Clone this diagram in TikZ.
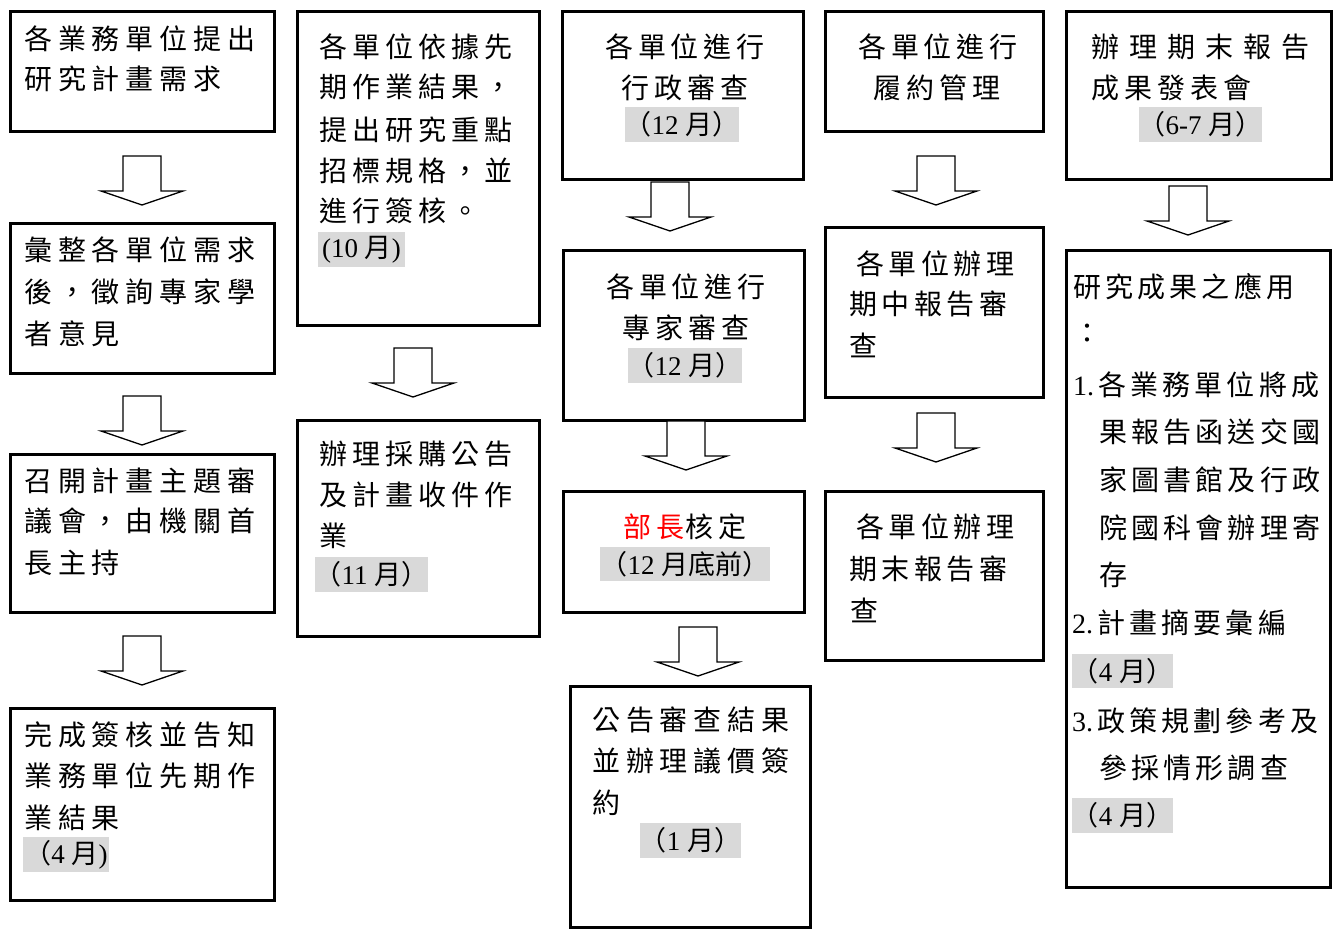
\documentclass[tikz,border=0pt]{standalone}
\usepackage{fontspec}
\setmainfont{Liberation Serif}
\newfontfamily\cjk{Noto Sans CJK TC}
\usetikzlibrary{calc}
\newcommand\ls[1]{\addfontfeature{LetterSpace=#1}}
\tikzset{
  box/.style={draw=black, line width=3pt, rectangle, inner sep=0pt, outer sep=0pt},
  txt/.style={anchor=base west, inner sep=0pt, font=\cjk\fontsize{28pt}{28pt}\selectfont},
  ctxt/.style={anchor=base, inner sep=0pt, font=\cjk\fontsize{28pt}{28pt}\selectfont},
  mon/.style={fill=gray!30, inner sep=0pt, outer sep=0pt, font=\cjk\fontsize{27pt}{27pt}\selectfont},
  arrline/.style={draw=black, line width=1.3pt, fill=white, line join=miter}
}
% text line: name, x, y(center), letterspace, text
\newcommand\tl[5]{\node[txt] (#1) at (#2,#3+10.5) {\ls{#4}#5};}
\newcommand\tc[5]{\node[ctxt] (#1) at (#2,#3+10.5) {\ls{#4}#5};}
% block arrow below node #1, dx #2, dy #3
\newcommand\barrow[3]{\draw[arrline] ($(#1.south)+(#2-19,#3)$) -- ++(38,0) -- ++(0,35) -- ++(22,0) -- ++(-41,14) -- ++(-41,-14) -- ++(22,0) -- cycle;}
\begin{document}
\begin{tikzpicture}[x=1pt,y=-1pt]
\useasboundingbox (0,0) rectangle (1335,933);
\fill[white] (0,0) rectangle (1335,933);
% ---- boxes
\node[box, minimum width=264, minimum height=120] (b1) at (142,72) {};
\node[box, minimum width=264, minimum height=149] (b2) at (142,298.5) {};
\node[box, minimum width=264, minimum height=158] (b3) at (142,533) {};
\node[box, minimum width=264, minimum height=192] (b4) at (142,804) {};
\node[box, minimum width=242, minimum height=313] (b5) at (418,168.5) {};
\node[box, minimum width=242, minimum height=216] (b6) at (418,528) {};
\node[box, minimum width=241, minimum height=168] (b7) at (682.5,96) {};
\node[box, minimum width=241, minimum height=169] (b8) at (683.5,335.5) {};
\node[box, minimum width=241, minimum height=121] (b9) at (683.5,551.5) {};
\node[box, minimum width=240, minimum height=241] (b10) at (690,806.5) {};
\node[box, minimum width=218, minimum height=120] (b11) at (934,72) {};
\node[box, minimum width=218, minimum height=169] (b12) at (934,312.5) {};
\node[box, minimum width=218, minimum height=169] (b13) at (934,575.5) {};
\node[box, minimum width=265, minimum height=168] (b14) at (1198.5,96) {};
\node[box, minimum width=264, minimum height=636] (b15) at (1198,569) {};
% ---- arrows
\barrow{b1}{0}{24}
\barrow{b2}{0}{23}
\barrow{b3}{0}{24}
\barrow{b5}{-5}{23}
\barrow{b7}{-12.5}{2}
\barrow{b8}{2.5}{1}
\barrow{b9}{14.5}{15}
\barrow{b11}{2}{24}
\barrow{b12}{2}{16}
\barrow{b14}{-10.5}{6}
% ---- month labels
\node[mon, minimum width=86, minimum height=35] (m4) at (66,854.5) {（{\rmfamily 4 }月{\rmfamily )}};
\node[mon, minimum width=87, minimum height=35] (m5) at (361.5,249.5) {{\rmfamily (10 }月{\rmfamily )}};
\node[mon, minimum width=111, minimum height=35] (m6) at (371.5,574.5) {（{\rmfamily 11 }月）};
\node[mon, minimum width=114, minimum height=35] (m7) at (682,124.5) {（{\rmfamily 12 }月）};
\node[mon, minimum width=114, minimum height=35] (m8) at (685,365.5) {（{\rmfamily 12 }月）};
\node[mon, minimum width=170, minimum height=34] (m9) at (685,564) {（{\rmfamily 12 }月底前）};
\node[mon, minimum width=101, minimum height=35] (m10) at (690.5,840.5) {（{\rmfamily 1 }月）};
\node[mon, minimum width=123, minimum height=35] (m14) at (1200.5,124.5) {（{\rmfamily 6-7 }月）};
\node[mon, minimum width=101, minimum height=34] (m15a) at (1122.5,671) {（{\rmfamily 4 }月）};
\node[mon, minimum width=101, minimum height=35] (m15b) at (1122.5,815.5) {（{\rmfamily 4 }月）};
% ---- texts
\tl{t1a}{24}{39}{21}{各業務單位提出}
\tl{t1b}{24}{79}{21}{研究計畫需求}
\tl{t2a}{24}{250.5}{21}{彙整各單位需求}
\tl{t2b}{24}{292}{21}{後，徵詢專家學}
\tl{t2c}{24}{334}{21}{者意見}
\tl{t3a}{24}{481}{21}{召開計畫主題審}
\tl{t3b}{24}{521}{21}{議會，由機關首}
\tl{t3c}{24}{563}{21}{長主持}
\tl{t4a}{24}{735}{21}{完成簽核並告知}
\tl{t4b}{24}{776}{21}{業務單位先期作}
\tl{t4c}{24}{818}{21}{業結果}
\tl{t5a}{319}{47}{18}{各單位依據先}
\tl{t5b}{319}{87.5}{18}{期作業結果，}
\tl{t5c}{319}{130}{18}{提出研究重點}
\tl{t5d}{319}{171}{18}{招標規格，並}
\tl{t5e}{319}{211}{18}{進行簽核。}
\tl{t6a}{319}{454}{18}{辦理採購公告}
\tl{t6b}{319}{495}{18}{及計畫收件作}
\tl{t6c}{319}{536}{18}{業}
\tc{t7a}{685}{47}{17}{各單位進行}
\tc{t7b}{685}{88}{17}{行政審查}
\tc{t8a}{686}{287}{17}{各單位進行}
\tc{t8b}{686}{328}{17}{專家審查}
\tc{t9a}{685}{527}{18}{\textcolor{red}{部長}核定}
\tl{t10a}{592}{720}{21}{公告審查結果}
\tl{t10b}{592}{761}{21}{並辦理議價簽}
\tl{t10c}{592}{803}{21}{約}
\tc{t11a}{938}{47}{17}{各單位進行}
\tc{t11b}{937}{88}{17}{履約管理}
\tl{t12a}{856}{264}{16}{各單位辦理}
\tl{t12b}{849}{304}{16}{期中報告審}
\tl{t12c}{849}{346}{16}{查}
\tl{t13a}{856}{527}{16}{各單位辦理}
\tl{t13b}{849}{569}{16}{期末報告審}
\tl{t13c}{850}{611}{16}{查}
\tl{t14a}{1091}{47}{36}{辦理期末報告}
\tl{t14b}{1091}{88}{18}{成果發表會}
\tl{t15a}{1073}{287}{15}{研究成果之應用}
\tl{t15b}{1073}{333}{15}{：}
\tl{t15c}{1073}{385}{15}{{\rmfamily 1.}\kern4pt 各業務單位將成}
\tl{t15d}{1099}{432}{15}{果報告函送交國}
\tl{t15e}{1099}{480}{15}{家圖書館及行政}
\tl{t15f}{1099}{528}{15}{院國科會辦理寄}
\tl{t15g}{1099}{575}{15}{存}
\tl{t15h}{1072}{623}{15}{{\rmfamily 2.}\kern4pt 計畫摘要彙編}
\tl{t15i}{1072}{721}{15}{{\rmfamily 3.}\kern4pt 政策規劃參考及}
\tl{t15j}{1099}{768}{15}{參採情形調查}
\end{tikzpicture}
\end{document}
